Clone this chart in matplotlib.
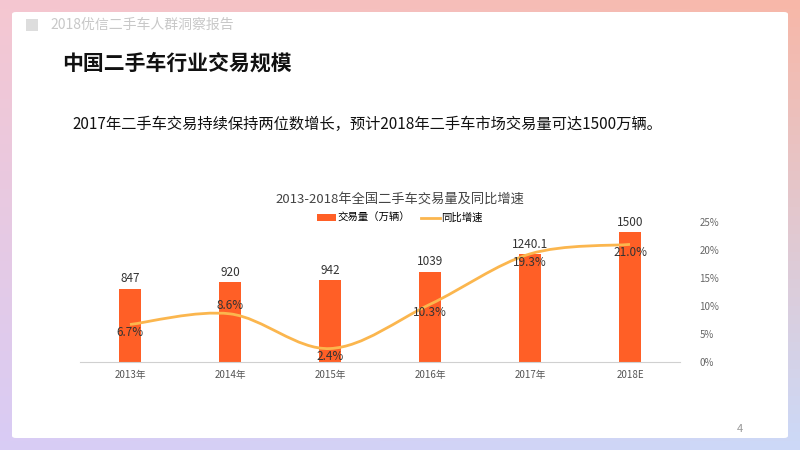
import numpy as np
import matplotlib
matplotlib.use("Agg")
import matplotlib.pyplot as plt
from matplotlib.path import Path
from matplotlib.patches import PathPatch, FancyBboxPatch, Rectangle

plt.rcParams['font.family'] = ['Noto Sans CJK SC', 'DejaVu Sans']

categories = ["2013年", "2014年", "2015年", "2016年", "2017年", "2018E"]
volume = [847, 920, 942, 1039, 1240.1, 1500]
growth = [6.7, 8.6, 2.4, 10.3, 19.3, 21.0]
vol_labels = ["847", "920", "942", "1039", "1240.1", "1500"]
growth_labels = ["6.7%", "8.6%", "2.4%", "10.3%", "19.3%", "21.0%"]
right_ticks = [0, 5, 10, 15, 20, 25]

fig = plt.figure(figsize=(8, 4.5), dpi=100)

# gradient background
bg = fig.add_axes([0, 0, 1, 1])
bg.set_axis_off()
h, w = 50, 80
yy, xx = np.mgrid[0:1:h*1j, 0:1:w*1j]
tl = np.array([0.96, 0.78, 0.82]); tr = np.array([0.97, 0.72, 0.66])
bl = np.array([0.85, 0.80, 0.96]); br = np.array([0.80, 0.85, 0.97])
img = (tl*((1-xx)*(1-yy))[..., None] + tr*(xx*(1-yy))[..., None]
       + bl*((1-xx)*yy)[..., None] + br*(xx*yy)[..., None])
bg.imshow(img, extent=[0, 1, 0, 1], aspect='auto', origin='upper')
bg.add_patch(FancyBboxPatch((12/800, 12/450), 776/800, 426/450,
             boxstyle="round,pad=0,rounding_size=0.005", fc='white', ec='none'))
bg.set_xlim(0, 1); bg.set_ylim(0, 1)
bg.add_patch(Rectangle((26/800, 1-31/450), 12/800, 12/450, fc='#dddddd', ec='none'))
fig.text(50/800, 1-25/450, "2018优信二手车人群洞察报告", fontsize=10, color='#c8c8c8', va='center')
fig.text(62/800, 1-63/450, "中国二手车行业交易规模", fontsize=15, fontweight='bold', color='#111111', va='center')
fig.text(72/800, 1-124/450, "2017年二手车交易持续保持两位数增长，预计2018年二手车市场交易量可达1500万辆。",
         fontsize=11, color='#111111', va='center')
fig.text(737/800, 1-429/450, "4", fontsize=8, color='#999999', va='center')
fig.text(400/800, 1-199/450, "2013-2018年全国二手车交易量及同比增速", fontsize=9.5, color='#444444', ha='center', va='center')

ax = fig.add_axes([80/800, 88/450, 600/800, 140/450])
x = np.arange(len(categories))
ax.bar(x, volume, width=0.22, color='#ff5f26', label='交易量（万辆）')
ax.set_ylim(0, 1615)
ax.set_xlim(-0.5, 5.5)
for xi, v, s in zip(x, volume, vol_labels):
    ax.text(xi, v + 40, s, ha='center', va='bottom', fontsize=8.5, color='#333333')
ax.set_xticks(x)
ax.set_xticklabels(categories, fontsize=7, color='#555555')
ax.tick_params(axis='x', length=0, pad=6)
ax.set_yticks([])
for s in ['top', 'left', 'right']:
    ax.spines[s].set_visible(False)
ax.spines['bottom'].set_color('#d0d0d0')
ax.patch.set_alpha(0)

ax2 = ax.twinx()
ax2.set_ylim(0, 25)
ax2.set_yticks(right_ticks)
ax2.set_yticklabels([f"{t}%" for t in right_ticks], fontsize=7, color='#666666')
ax2.tick_params(axis='y', length=0, pad=14)
for s in ['top', 'left', 'right', 'bottom']:
    ax2.spines[s].set_visible(False)

# smooth line via Catmull-Rom bezier path through data points
px = x.astype(float); py = np.array(growth)
verts = [(px[0], py[0])]; codes = [Path.MOVETO]
for i in range(len(px) - 1):
    p0 = (px[max(i-1, 0)], py[max(i-1, 0)]); p1 = (px[i], py[i])
    p2 = (px[i+1], py[i+1]); p3 = (px[min(i+2, len(px)-1)], py[min(i+2, len(px)-1)])
    c1 = (p1[0] + (p2[0]-p0[0])/6, p1[1] + (p2[1]-p0[1])/6)
    c2 = (p2[0] - (p3[0]-p1[0])/6, p2[1] - (p3[1]-p1[1])/6)
    verts += [c1, c2, p2]; codes += [Path.CURVE4]*3
ax2.add_patch(PathPatch(Path(verts, codes), fc='none', ec='#fbb64e', lw=2))
line_proxy, = ax2.plot([], [], color='#fbb64e', lw=2, label='同比增速')
offs = [-1.5, 1.5, -1.5, -1.5, -1.5, -1.5]
for xi, g, s, o in zip(x, growth, growth_labels, offs):
    ax2.text(xi, g + o, s, ha='center', va='center', fontsize=8.5, color='#333333')

h1, l1 = ax.get_legend_handles_labels()
fig.legend(h1 + [line_proxy], l1 + ['同比增速'], loc='center', bbox_to_anchor=(400/800, 1-218/450),
           ncol=2, frameon=False, fontsize=7.5, handlelength=1.8, handleheight=0.6, columnspacing=1.0,
           handletextpad=0.2)

fig.savefig("out.png", dpi=100)
